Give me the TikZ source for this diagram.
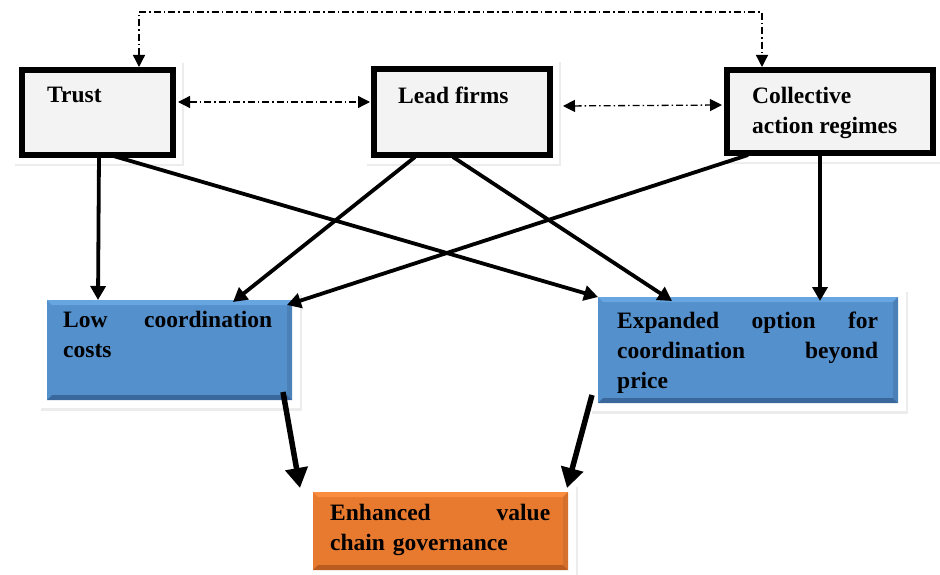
\documentclass[tikz,border=0pt]{standalone}
\usepackage{fontspec}
\setmainfont{Liberation Serif}
\usetikzlibrary{arrows.meta,calc,shadows}
\pgfdeclarelayer{background}
\pgfsetlayers{background,main}
\definecolor{boxgray}{RGB}{243,243,243}
\definecolor{blueM}{RGB}{84,144,204}
\definecolor{blueT}{RGB}{104,166,226}
\definecolor{blueB}{RGB}{58,104,156}
\definecolor{orM}{RGB}{232,122,48}
\definecolor{orT}{RGB}{250,142,62}
\definecolor{orB}{RGB}{186,92,32}
\tikzset{
  x=1pt, y=-1pt,
  topbox/.style={draw=black, line width=5.5pt, fill=boxgray, inner sep=0pt, outer sep=0pt, rectangle},
  flatbox/.style={inner sep=0pt, outer sep=0pt, rectangle},
  lbl/.style={anchor=north west, inner sep=0pt, align=left, font=\bfseries\fontsize{23.5}{30}\selectfont},
  halo/.style={fill=white, drop shadow={opacity=0.15, shadow xshift=1.5pt, shadow yshift=-2.5pt}},
  solidarr/.style={line width=3.8pt, -{Triangle[length=14pt,width=15pt]}},
  bigarr/.style={line width=5.5pt, -{Triangle[length=20pt,width=22pt]}},
  dasharr/.style={line width=1.3pt, dash pattern=on 7pt off 3pt on 1.5pt off 3pt, {Triangle[length=12pt,width=12pt]}-{Triangle[length=12pt,width=12pt]}},
}
\begin{document}
\begin{tikzpicture}
\useasboundingbox (0,0) rectangle (940,575);
% boxes
\node[topbox, minimum width=151pt, minimum height=85pt] (trust) at (97.5,112.5) {};
\node[topbox, minimum width=176pt, minimum height=86pt] (lead) at (462,112) {};
\node[topbox, minimum width=206pt, minimum height=83pt] (coll) at (830,111.5) {};
\node[flatbox, fill=blueM, minimum width=245pt, minimum height=100pt] (low) at (169.5,350) {};
\node[flatbox, fill=blueM, minimum width=300pt, minimum height=106pt] (exp) at (748,350) {};
\node[flatbox, fill=orM, minimum width=255pt, minimum height=78pt] (enh) at (440.5,531) {};
% bevels
\foreach \b/\ct/\cb in {low/blueT/blueB, exp/blueT/blueB, enh/orT/orB}{
  \fill[\ct] (\b.north west) -- (\b.north east) -- ($(\b.north east)+(-5,5)$) -- ($(\b.north west)+(5,5)$) -- cycle;
  \fill[\cb] (\b.south west) -- (\b.south east) -- ($(\b.south east)+(-5,-5)$) -- ($(\b.south west)+(5,-5)$) -- cycle;
  \fill[\cb!60!\ct] (\b.north east) -- (\b.south east) -- ($(\b.south east)+(-5,-5)$) -- ($(\b.north east)+(-5,5)$) -- cycle;
}
% halos
\begin{pgfonlayer}{background}
\foreach \b/\m in {trust/9, lead/9, coll/9, low/8, exp/8, enh/8}{
  \path[halo] ($(\b.north west)+(-\m,-\m)$) rectangle ($(\b.south east)+(\m,\m)$);
}
\end{pgfonlayer}
% texts
\node[lbl] (ttrust) at ($(trust.north west)+(25,17)$) {Trust};
\node[lbl] (tlead) at ($(lead.north west)+(24,18)$) {Lead firms};
\node[lbl] (tcoll) at ($(coll.north west)+(25,17)$) {Collective\\action regimes};
\node[lbl, text width=209pt] (tlow) at ($(low.north west)+(16,11)$) {Low\hfill coordination\\costs};
\node[lbl, text width=261pt] (texp) at ($(exp.north west)+(19,15)$) {Expanded\hfill option\hfill for\\coordination\hfill beyond\\price};
\node[lbl, text width=220pt] (tenh) at ($(enh.north west)+(17,12)$) {Enhanced\hfill value\\chain governance};
% dash-dot connectors
\coordinate (tl) at (139,12);
\coordinate (tr) at (762,12);
\draw[dasharr] ($(trust.north west)+(117,-3)$) -- (tl) -- (tr) -- ($(coll.north west)+(35,-3)$);
\draw[dasharr] ($(trust.north east)+(5,32)$) -- ($(lead.north west)+(-4,33)$);
\draw[dasharr] ($(lead.north east)+(13,37)$) -- ($(coll.north west)+(-5,35)$);
% solid connectors
\draw[solidarr] ($(trust.south west)+(77,0)$) -- ($(low.north west)+(51,0)$);
\draw[solidarr] ($(trust.south west)+(88,0)$) -- (exp.north west);
\draw[solidarr] ($(lead.south west)+(41,2)$) -- ($(low.north west)+(186,2)$);
\draw[solidarr] ($(lead.south west)+(79,2)$) -- ($(exp.north west)+(74,4)$);
\draw[solidarr] ($(coll.south west)+(21,2)$) -- ($(low.north east)+(-5,5)$);
\draw[solidarr] ($(coll.south west)+(93,2)$) -- ($(exp.north west)+(222,4)$);
\draw[bigarr] ($(low.south east)+(-9,-8)$) -- ($(enh.north west)+(-13,-4)$);
\draw[bigarr] ($(exp.south west)+(-6,-8)$) -- ($(enh.north east)+(-1,-4)$);
\end{tikzpicture}
\end{document}
